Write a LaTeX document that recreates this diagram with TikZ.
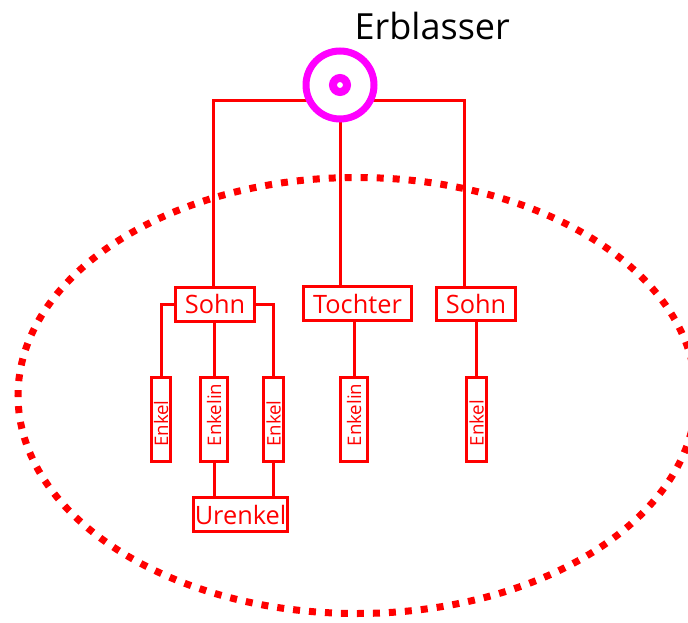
\documentclass[tikz,border=0pt]{standalone}
\usepackage{fontspec}
\setmainfont{Open Sans}
\usepackage{xcolor}
\usepackage{tikz}
\usetikzlibrary{backgrounds}

\definecolor{erbmag}{RGB}{255,0,255}
\definecolor{erbred}{RGB}{255,0,0}

\newcommand\kidname[1]{\makebox[63pt][l]{\hspace{11pt}#1}}

\tikzset{
	kin/.style={draw=erbred, text=erbred, line width=2.25pt, inner sep=0pt,
		font=\fontsize{19}{23}\selectfont},
	kid/.style={kin, rotate=90, minimum width=63pt,
		font=\fontsize{14}{16}\selectfont},
	link/.style={draw=erbred, line width=2.25pt}
}

\begin{document}
\begin{tikzpicture}[x=0.75pt, y=-0.75pt]

\useasboundingbox (0,0) rectangle (688,623);

% Erblasser
\node[circle, draw=erbmag, fill=white, line width=5.25pt, minimum size=51pt,
	inner sep=0pt] (erb) at (340,85) {};
\node[circle, draw=erbmag, line width=6pt, minimum size=10.5pt, inner sep=0pt]
	(dot) at (erb.center) {};
\node[anchor=base west, font=\fontsize{27}{32}\selectfont] (name) at (350,40) {Erblasser};

% Kinder
\node[kin, minimum width=59pt, minimum height=25pt]   (sohnA)   at (215,304.5) {Sohn};
\node[kin, minimum width=81pt, minimum height=25.5pt] (tochter) at (357.5,303.5) {Tochter};
\node[kin, minimum width=59pt, minimum height=25pt]   (sohnB)   at (476,304) {Sohn};

% Enkel
\node[kid, minimum height=14.25pt] (enkA) at (161,419.5)   {\kidname{Enkel}};
\node[kid, minimum height=20.25pt] (enkB) at (214,419)     {\kidname{Enkelin}};
\node[kid, minimum height=15pt]    (enkC) at (273.5,419.5) {\kidname{Enkel}};
\node[kid, minimum height=20.25pt] (enkD) at (354,419)     {\kidname{Enkelin}};
\node[kid, minimum height=15pt]    (enkE) at (476.5,419)   {\kidname{Enkel}};

% Urenkel
\node[kin, minimum width=70.5pt, minimum height=25.5pt] (uren) at (240.5,514.5) {Urenkel};

\coordinate (jl) at (213,101);
\coordinate (jr) at (464,101);

\begin{pgfonlayer}{background}
	\draw[link] (jl |- sohnA.north) -- (jl) -- (jr) -- (jr |- sohnB.north);
	\draw[link] (erb.center) -- (erb.center |- tochter.north);

	\draw[link] (sohnA.west) -| (enkA.east);
	\draw[link] (sohnA.south -| enkB.east) -- (enkB.east);
	\draw[link] (sohnA.east) -| (enkC.east);
	\draw[link] (tochter.south -| enkD.east) -- (enkD.east);
	\draw[link] (sohnB.south -| enkE.east) -- (enkE.east);

	\draw[link] (enkB.west) -- (enkB.west |- uren.north);
	\draw[link] (enkC.west) -- (enkC.west |- uren.north);
\end{pgfonlayer}

% Erbengemeinschaft
\draw[erbred, line width=5.25pt, dash pattern=on 5.25pt off 6.75pt]
	(357,395.5) ellipse [x radius=254.25pt, y radius=163.5pt];

\end{tikzpicture}
\end{document}
